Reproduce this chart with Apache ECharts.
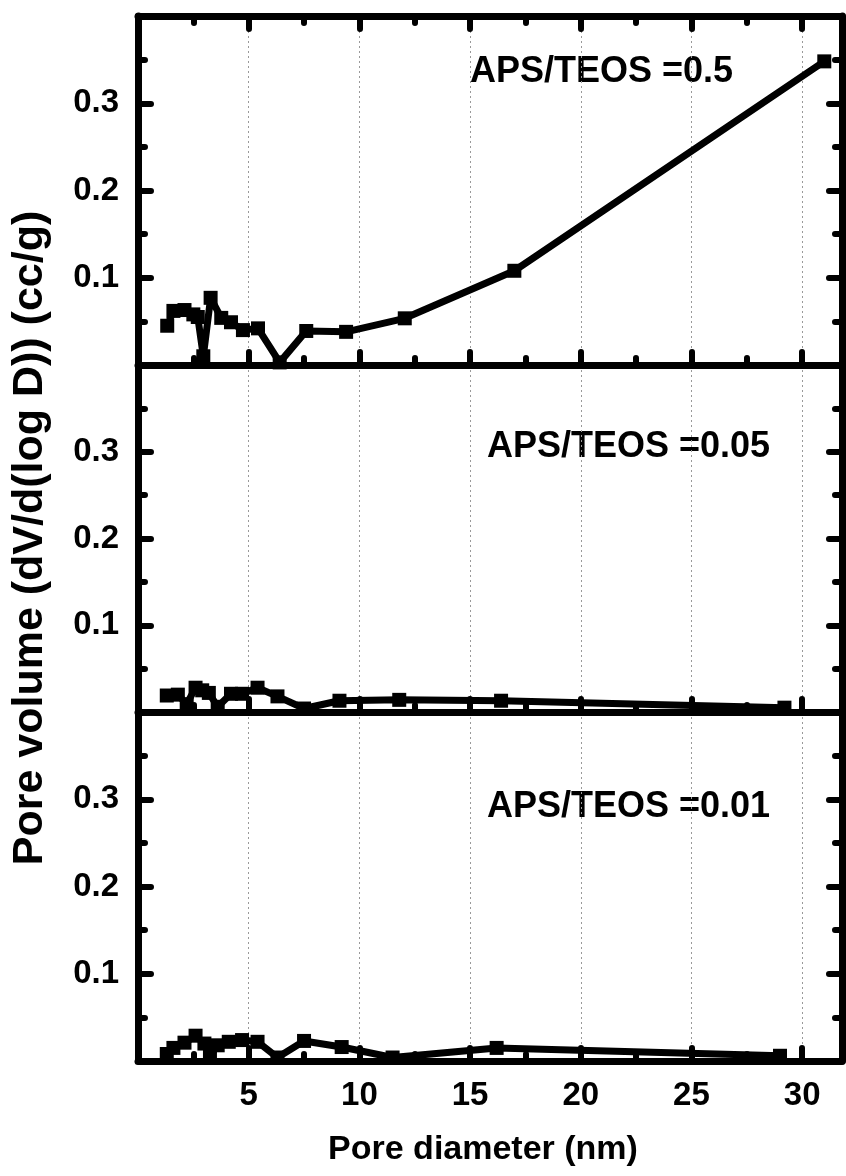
<!DOCTYPE html>
<html>
<head>
<meta charset="UTF-8">
<script type="text/javascript" src="https://cdn.jsdelivr.net/npm/echarts@6/dist/echarts.min.js"></script>
<title>Pore size distribution</title>
<style>
	html, body { margin: 0; padding: 0; background: #fff; }
	#main { width: 846px; height: 1176px; }
</style>
</head>
<body>
<div id="main"></div>
<script type="text/javascript">
	// APS/TEOS = 0.5 (top panel)
	var x05 = [1.32, 1.6, 2.1, 2.5, 2.7, 2.95, 3.28, 3.76, 4.2, 4.74, 5.42, 6.4, 7.6, 9.4, 12.05, 17.0, 31.0];
	var y05 = [0.045, 0.062, 0.063, 0.058, 0.055, 0.010, 0.077, 0.054, 0.049, 0.040, 0.042, 0.003, 0.039, 0.038, 0.0535, 0.108, 0.348];
	// APS/TEOS = 0.05 (middle panel)
	var x005 = [1.3, 1.8, 2.2, 2.6, 2.9, 3.2, 3.6, 4.2, 4.7, 5.4, 6.3, 7.5, 9.1, 11.8, 16.4, 29.2];
	var y005 = [0.019, 0.020, 0.009, 0.028, 0.025, 0.022, 0.006, 0.021, 0.021, 0.028, 0.018, 0.004, 0.013, 0.014, 0.013, 0.005];
	// APS/TEOS = 0.01 (bottom panel)
	var x001 = [1.3, 1.6, 2.1, 2.6, 3.0, 3.25, 3.6, 4.1, 4.7, 5.4, 6.3, 7.5, 9.2, 11.5, 16.2, 29.0];
	var y001 = [0.008, 0.015, 0.021, 0.029, 0.020, 0.006, 0.018, 0.022, 0.024, 0.022, 0.004, 0.023, 0.016, 0.004, 0.015, 0.006];

	var panelLabels = ["APS/TEOS =0.5", "APS/TEOS =0.05", "APS/TEOS =0.01"];
	var xTicks = [5, 10, 15, 20, 25, 30];
	var yTicks = [0.1, 0.2, 0.3];

	var font = "'Liberation Sans', Arial, sans-serif";
	var myChart = echarts.init(document.getElementById('main'));

	function pairs(xs, ys){
		var out = [];
		for (var i = 0; i < xs.length; i++) out.push([xs[i], ys[i]]);
		return out;
	}

	var grids = [
		{left: 138, width: 704, top: 16, height: 349},
		{left: 138, width: 704, top: 365, height: 347},
		{left: 138, width: 704, top: 712, height: 349}
	];

	var axisLine = {show: true, onZero: false, lineStyle: {color: '#000', width: 7}};
	var tick = {show: true, inside: true, length: 13, lineStyle: {color: '#000', width: 6, cap: 'round'}};
	var minor = {show: true, splitNumber: 2, length: 7, lineStyle: {color: '#000', width: 6, cap: 'round'}};

	var xAxes = [], yAxes = [];
	for (var g = 0; g < 3; g++) {
		xAxes.push({
			type: 'value', gridIndex: g, position: 'bottom', min: 0, max: 31.8, interval: 5,
			axisLine: axisLine, axisTick: tick, minorTick: minor,
			splitLine: {show: true, lineStyle: {color: '#999', width: 1, type: [2, 3]}},
			axisLabel: {
				show: g === 2, margin: 18, color: '#000', fontSize: 33, fontWeight: 'bold', fontFamily: font,
				formatter: function(v){ return xTicks.indexOf(v) >= 0 ? String(v) : ''; }
			}
		});
		yAxes.push({
			type: 'value', gridIndex: g, position: 'left', min: 0, max: 0.4, interval: 0.1,
			axisLine: axisLine, axisTick: tick, minorTick: minor, splitLine: {show: false},
			axisLabel: {
				margin: 19, color: '#000', fontSize: 33, fontWeight: 'bold', fontFamily: font,
				formatter: function(v){
					var r = Math.round(v * 10) / 10;
					return yTicks.indexOf(r) >= 0 ? r.toFixed(1) : '';
				}
			}
		});
		yAxes.push({
			type: 'value', gridIndex: g, position: 'right', min: 0, max: 0.4, interval: 0.1,
			axisLine: axisLine, axisTick: tick, minorTick: minor, splitLine: {show: false},
			axisLabel: {show: false}
		});
	}
	// top frame of the upper panel
	xAxes.push({
		type: 'value', gridIndex: 0, position: 'top', min: 0, max: 31.8, interval: 5,
		axisLine: axisLine, axisTick: tick, minorTick: minor,
		splitLine: {show: false}, axisLabel: {show: false}
	});

	var sets = [pairs(x05, y05), pairs(x005, y005), pairs(x001, y001)];
	var series = [];
	for (var s = 0; s < 3; s++) {
		series.push({
			type: 'line', xAxisIndex: s, yAxisIndex: s * 2, data: sets[s],
			symbol: 'rect', symbolSize: 14, showAllSymbol: true, clip: false,
			itemStyle: {color: '#000'},
			lineStyle: {color: '#000', width: 7, cap: 'round', join: 'round'},
			z: 3
		});
	}

	var labelPos = [[470, 73], [487, 448], [487, 808]];
	var graphics = [];
	for (var k = 0; k < 3; k++) {
		graphics.push({
			type: 'text', left: labelPos[k][0], top: labelPos[k][1] - 19,
			style: {text: panelLabels[k], fill: '#000', font: 'bold 36px ' + font}
		});
	}
	graphics.push({
		type: 'text', x: 483, y: 1133,
		style: {text: 'Pore diameter (nm)', fill: '#000', font: 'bold 34px ' + font, textAlign: 'center'}
	});
	graphics.push({
		type: 'text', rotation: Math.PI / 2, x: 9, y: 538,
		style: {text: 'Pore volume (dV/d(log D)) (cc/g)', fill: '#000', font: 'bold 43px ' + font,
			textAlign: 'center', textVerticalAlign: 'top'}
	});

	var option = {
		animation: false,
		backgroundColor: '#fff',
		grid: grids,
		xAxis: xAxes,
		yAxis: yAxes,
		series: series,
		graphic: graphics
	};
	myChart.setOption(option);
</script>
</body>
</html>
